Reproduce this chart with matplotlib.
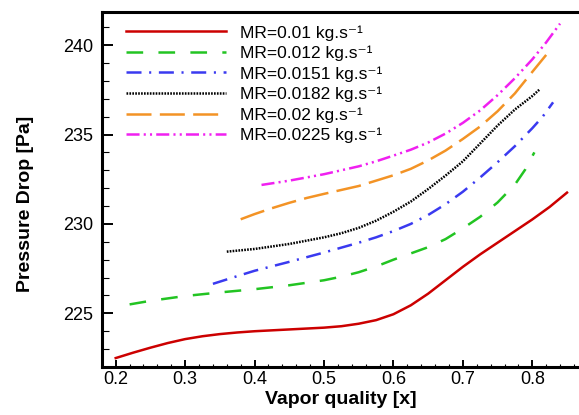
import numpy as np
import matplotlib
matplotlib.use("Agg")
import matplotlib.pyplot as plt
from matplotlib.ticker import MultipleLocator

plt.rcParams['font.family'] = ['Liberation Sans', 'DejaVu Sans']
plt.rcParams['lines.scale_dashes'] = False

# mass flow rates (kg/s)
mass_rates = ['0.01', '0.012', '0.0151', '0.0182', '0.02', '0.0225']

x_001 = [0.20, 0.225, 0.25, 0.275, 0.30, 0.325, 0.35, 0.375, 0.40, 0.45, 0.50, 0.525,
         0.55, 0.575, 0.60, 0.625, 0.65, 0.675, 0.70, 0.725, 0.75, 0.775, 0.80, 0.825, 0.85]
dp_001 = [222.50, 222.80, 223.08, 223.34, 223.56, 223.72, 223.84, 223.93, 224.00, 224.10,
          224.20, 224.28, 224.42, 224.62, 224.95, 225.45, 226.10, 226.85, 227.60, 228.30,
          228.95, 229.60, 230.25, 230.95, 231.75]

x_0012 = [0.22, 0.25, 0.30, 0.35, 0.40, 0.45, 0.50, 0.525, 0.55, 0.575, 0.60, 0.625,
          0.65, 0.675, 0.70, 0.725, 0.75, 0.775, 0.79, 0.803]
dp_0012 = [225.50, 225.70, 225.97, 226.17, 226.35, 226.57, 226.85, 227.05, 227.30, 227.62,
           228.00, 228.35, 228.70, 229.15, 229.75, 230.40, 231.20, 232.20, 233.05, 234.00]

x_00151 = [0.34, 0.375, 0.40, 0.45, 0.50, 0.55, 0.575, 0.60, 0.625, 0.65, 0.675, 0.70,
           0.725, 0.75, 0.775, 0.80, 0.815, 0.83]
dp_00151 = [226.65, 227.08, 227.38, 227.88, 228.40, 228.95, 229.25, 229.60, 230.00, 230.50,
            231.10, 231.80, 232.60, 233.45, 234.35, 235.35, 236.00, 236.80]

x_00182 = [0.36, 0.40, 0.45, 0.50, 0.525, 0.55, 0.575, 0.60, 0.625, 0.65, 0.675, 0.70,
           0.725, 0.75, 0.775, 0.80, 0.81]
dp_00182 = [228.45, 228.60, 228.88, 229.25, 229.48, 229.78, 230.18, 230.68, 231.25, 231.95,
            232.70, 233.50, 234.50, 235.50, 236.40, 237.15, 237.50]

x_002 = [0.38, 0.40, 0.425, 0.45, 0.475, 0.50, 0.55, 0.60, 0.625, 0.65, 0.675, 0.70,
         0.725, 0.75, 0.775, 0.80, 0.82]
dp_002 = [230.26, 230.55, 230.88, 231.18, 231.45, 231.68, 232.12, 232.72, 233.08, 233.55,
          234.10, 234.75, 235.45, 236.30, 237.30, 238.50, 239.45]

x_00225 = [0.41, 0.45, 0.50, 0.55, 0.575, 0.60, 0.625, 0.65, 0.675, 0.70, 0.725, 0.75,
           0.775, 0.80, 0.82, 0.84]
dp_00225 = [232.18, 232.42, 232.78, 233.22, 233.50, 233.82, 234.15, 234.55, 235.05, 235.65,
            236.35, 237.20, 238.15, 239.20, 240.15, 241.20]

xs = [x_001, x_0012, x_00151, x_00182, x_002, x_00225]
ys = [dp_001, dp_0012, dp_00151, dp_00182, dp_002, dp_00225]
colors = ['#cc0000', '#22c422', '#3a3af0', '#000000', '#f39325', '#f020f0']
dashes = [None, (12, 11), (10.8, 5.5, 1.5, 5.5), (1.2, 0.9), (18, 6),
          (9.4, 3, 1.5, 3, 1.5, 3)]

fig = plt.figure(figsize=(5.79, 4.15), dpi=100)
ax = fig.add_axes([101.7 / 579, 48 / 415, (579 - 101.7) / 579, 355 / 415])

for x, y, c, d, mr in zip(xs, ys, colors, dashes, mass_rates):
    line, = ax.plot(x, y, color=c, lw=1.8, label='MR=' + mr + ' kg.s\u207b\u00b9')
    if d is not None:
        line.set_dashes(d)
        line.set_dash_capstyle('butt')

ax.set_xlim(0.1798, 0.8673)
ax.set_ylim(222.0, 241.85)
ax.xaxis.set_major_locator(MultipleLocator(0.1))
ax.xaxis.set_minor_locator(MultipleLocator(0.02))
ax.yaxis.set_major_locator(MultipleLocator(5))
ax.yaxis.set_minor_locator(MultipleLocator(1))

ax.tick_params(axis='y', which='major', direction='in', length=8, width=1.4,
               labelsize=13, pad=6)
ax.tick_params(axis='y', which='minor', direction='in', length=4.8, width=0.8)
ax.tick_params(axis='x', which='major', direction='in', length=5, width=1.4,
               labelsize=13, pad=3)
ax.tick_params(axis='x', which='minor', direction='in', length=2.5, width=0.8)

for s in ['left', 'bottom', 'top']:
    ax.spines[s].set_linewidth(2.2)
ax.spines['right'].set_visible(False)

ax.set_xlabel('Vapor quality [x]', fontsize=14, fontweight='bold', va='top')
ax.xaxis.set_label_coords(0.5, -0.068)
ax.set_ylabel('Pressure Drop [Pa]', fontsize=14, fontweight='bold')
ax.yaxis.set_label_coords(-0.142, 0.459)

ax.legend(loc='upper left', bbox_to_anchor=(126 / 579, (415 - 25) / 415),
          bbox_transform=fig.transFigure, frameon=False, fontsize=12.5,
          handlelength=5.76, handletextpad=0.8, labelspacing=0.29,
          borderpad=0, borderaxespad=0)

fig.savefig('out.png', dpi=100)
